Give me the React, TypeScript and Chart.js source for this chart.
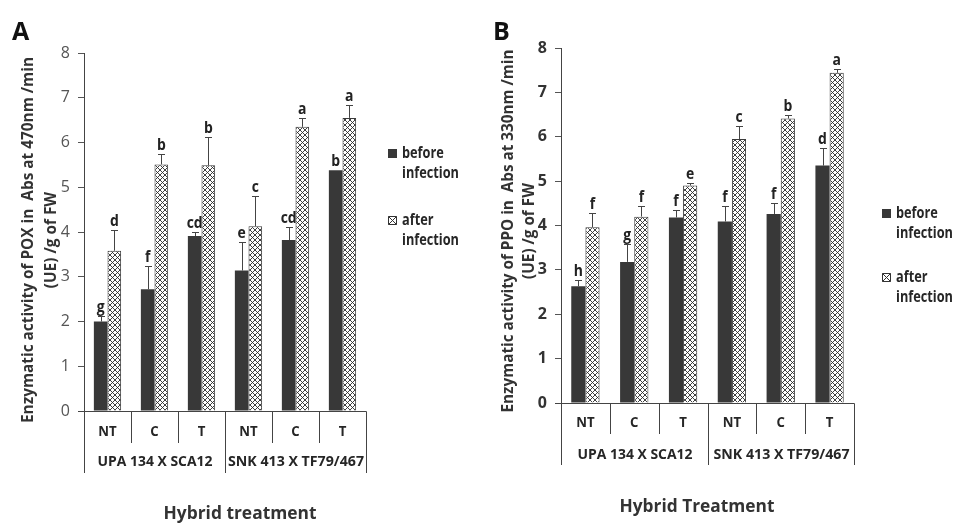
import React, { useEffect, useRef } from "react";
import { Chart, registerables } from "chart.js";

Chart.register(...registerables);

const categories = ["NT", "C", "T", "NT", "C", "T"];
const groups = ["UPA 134 X SCA12", "SNK 413 X TF79/467"];
const seriesNames = ["before infection", "after infection"];
const yTicks = [0, 1, 2, 3, 4, 5, 6, 7, 8];

const poxBefore = [2.0, 2.72, 3.91, 3.14, 3.82, 5.38];
const poxBeforeErr = [0.13, 0.52, 0.09, 0.64, 0.3, 0.0];
const poxAfter = [3.58, 5.51, 5.49, 4.13, 6.35, 6.55];
const poxAfterErr = [0.46, 0.23, 0.64, 0.67, 0.2, 0.29];
const poxBeforeLetters = ["g", "f", "cd", "e", "cd", "b"];
const poxAfterLetters = ["d", "b", "b", "c", "a", "a"];

const ppoBefore = [2.63, 3.18, 4.18, 4.09, 4.26, 5.35];
const ppoBeforeErr = [0.15, 0.4, 0.16, 0.36, 0.25, 0.39];
const ppoAfter = [3.96, 4.2, 4.9, 5.95, 6.41, 7.44];
const ppoAfterErr = [0.33, 0.25, 0.05, 0.29, 0.08, 0.09];
const ppoBeforeLetters = ["h", "g", "f", "f", "f", "d"];
const ppoAfterLetters = ["f", "f", "e", "c", "b", "a"];

const FONT = "'Open Sans', Lato, sans-serif";
const DARK = "#383838";

function makeHatch(): CanvasPattern | string {
  const s = 5;
  const c = document.createElement("canvas");
  c.width = s;
  c.height = s;
  const g = c.getContext("2d");
  if (!g) return "#fff";
  g.fillStyle = "#fff";
  g.fillRect(0, 0, s, s);
  g.strokeStyle = "#2a2a2a";
  g.lineWidth = 0.9;
  g.beginPath();
  g.moveTo(0, 0);
  g.lineTo(s, s);
  g.moveTo(s, 0);
  g.lineTo(0, s);
  g.stroke();
  const p = g.createPattern(c, "repeat");
  return p || "#fff";
}

// draw text at a given font size, squeezed horizontally to a target width (Calibri-like proportions)
function squeezeScale(ctx: CanvasRenderingContext2D, ref: string, size: number, target: number) {
  ctx.font = `bold ${size}px ${FONT}`;
  const w = ctx.measureText(ref).width;
  return Math.min(1, target / w);
}

function drawSqueezed(
  ctx: CanvasRenderingContext2D,
  text: string,
  x: number,
  y: number,
  size: number,
  sx: number,
  rotate = false
) {
  ctx.save();
  ctx.font = `bold ${size}px ${FONT}`;
  ctx.translate(x, y);
  if (rotate) ctx.rotate(-Math.PI / 2);
  ctx.scale(sx, 1);
  ctx.fillText(text, 0, 0);
  ctx.restore();
}

type Panel = {
  letter: string;
  before: number[];
  beforeErr: number[];
  after: number[];
  afterErr: number[];
  beforeLetters: string[];
  afterLetters: string[];
  yTitle: string[];
  yTitleW: number;
  xTitle: string;
  xTitleW: number;
  area: { left: number; right: number; top: number; bottom: number };
  width: number;
  tickBold: boolean;
  tickColor: string;
  catLabelY: number;
  groupLabelY: number;
  groupW: [number, number];
  innerDivBottom: number;
  outerDivBottom: number;
  xTitleX: number;
  xTitleY: number;
  yTitleX: [number, number];
  yTitleY: number;
  legendX: number;
  legendY: [number, number];
  letterX: number;
};

const panelA: Panel = {
  letter: "A",
  before: poxBefore,
  beforeErr: poxBeforeErr,
  after: poxAfter,
  afterErr: poxAfterErr,
  beforeLetters: poxBeforeLetters,
  afterLetters: poxAfterLetters,
  yTitle: ["Enzymatic activity of POX in  Abs at 470nm /min", "(UE) /g of FW"],
  yTitleW: 366,
  xTitle: "Hybrid treatment",
  xTitleW: 153,
  area: { left: 84, right: 366, top: 53, bottom: 411 },
  width: 480,
  tickBold: false,
  tickColor: "#555",
  catLabelY: 432,
  groupLabelY: 462,
  groupW: [115, 136],
  innerDivBottom: 443,
  outerDivBottom: 473,
  xTitleX: 240,
  xTitleY: 514,
  yTitleX: [28, 51],
  yTitleY: 240,
  legendX: 388,
  legendY: [153, 220],
  letterX: 12,
};

const panelB: Panel = {
  letter: "B",
  before: ppoBefore,
  beforeErr: ppoBeforeErr,
  after: ppoAfter,
  afterErr: ppoAfterErr,
  beforeLetters: ppoBeforeLetters,
  afterLetters: ppoAfterLetters,
  yTitle: ["Enzymatic activity of PPO in  Abs at 330nm /min", "(UE) /g of FW"],
  yTitleW: 363,
  xTitle: "Hybrid Treatment",
  xTitleW: 155,
  area: { left: 81, right: 374, top: 48, bottom: 403 },
  width: 479,
  tickBold: true,
  tickColor: "#333",
  catLabelY: 423,
  groupLabelY: 455,
  groupW: [115, 136],
  innerDivBottom: 434,
  outerDivBottom: 465,
  xTitleX: 217,
  xTitleY: 507,
  yTitleX: [28, 49],
  yTitleY: 231,
  legendX: 402,
  legendY: [213, 277],
  letterX: 13,
};

function PanelChart({ panel, left }: { panel: Panel; left: number }) {
  const ref = useRef<HTMLCanvasElement | null>(null);
  useEffect(() => {
    const canvas = ref.current;
    if (!canvas) return;
    const hatch = makeHatch();
    const p = panel;
    const overlay = {
      id: "overlay" + p.letter,
      afterDraw(chart: any) {
        const ctx = chart.ctx as CanvasRenderingContext2D;
        const ys = chart.scales.y;
        const xs = chart.scales.x;
        const ca = chart.chartArea;
        ctx.save();
        // error bars and letters
        const sets = [
          { err: p.beforeErr, vals: p.before, letters: p.beforeLetters },
          { err: p.afterErr, vals: p.after, letters: p.afterLetters },
        ];
        sets.forEach((s, di) => {
          const meta = chart.getDatasetMeta(di);
          meta.data.forEach((el: any, i: number) => {
            const x = el.x;
            const yv = ys.getPixelForValue(s.vals[i]);
            const yt = ys.getPixelForValue(s.vals[i] + s.err[i]);
            ctx.strokeStyle = "#444";
            ctx.lineWidth = 1;
            if (s.err[i] > 0) {
              ctx.beginPath();
              ctx.moveTo(Math.round(x) + 0.5, yv);
              ctx.lineTo(Math.round(x) + 0.5, Math.round(yt) + 0.5);
              ctx.moveTo(Math.round(x) - 3, Math.round(yt) + 0.5);
              ctx.lineTo(Math.round(x) + 4, Math.round(yt) + 0.5);
              ctx.stroke();
            }
            ctx.fillStyle = "#222";
            ctx.textAlign = "center";
            ctx.textBaseline = "alphabetic";
            drawSqueezed(ctx, s.letters[i], x, yt - 4, 15.5, 0.9);
          });
        });
        // category axis
        const y0 = Math.round(ys.getPixelForValue(0)) + 0.5;
        const n = categories.length;
        const bounds: number[] = [];
        for (let k = 0; k <= n; k++) {
          let bx;
          if (k === 0) bx = ca.left;
          else if (k === n) bx = ca.right;
          else bx = (xs.getPixelForValue(k - 1) + xs.getPixelForValue(k)) / 2;
          bounds.push(Math.round(bx) + 0.5);
        }
        ctx.strokeStyle = "#444";
        ctx.lineWidth = 1;
        ctx.beginPath();
        ctx.moveTo(ca.left - 6, y0);
        ctx.lineTo(bounds[n], y0);
        bounds.forEach((bx, k) => {
          const outer = k === 0 || k === n || k === n / 2;
          ctx.moveTo(bx, y0);
          ctx.lineTo(bx, outer ? p.outerDivBottom : p.innerDivBottom);
        });
        ctx.stroke();
        ctx.fillStyle = "#262626";
        ctx.textAlign = "center";
        ctx.textBaseline = "middle";
        categories.forEach((c, i) => {
          drawSqueezed(ctx, c, xs.getPixelForValue(i), p.catLabelY, 15, 0.88);
        });
        groups.forEach((g, gi) => {
          const gx = (bounds[gi * 3] + bounds[gi * 3 + 3]) / 2;
          const sc = squeezeScale(ctx, g, 15, p.groupW[gi]);
          drawSqueezed(ctx, g, gx, p.groupLabelY, 15, sc);
        });
        // x title
        ctx.fillStyle = "#333";
        const xsc = squeezeScale(ctx, p.xTitle, 18.5, p.xTitleW);
        drawSqueezed(ctx, p.xTitle, p.xTitleX, p.xTitleY, 18.5, xsc);
        // y title
        const ysc = squeezeScale(ctx, p.yTitle[0], 16.5, p.yTitleW);
        p.yTitle.forEach((t, li) => {
          drawSqueezed(ctx, t, p.yTitleX[li], p.yTitleY, 16.5, ysc, true);
        });
        // panel letter
        ctx.fillStyle = "#111";
        ctx.textAlign = "left";
        ctx.textBaseline = "alphabetic";
        drawSqueezed(ctx, p.letter, p.letterX, 40, 25, 1);
        // legend
        ctx.textBaseline = "middle";
        const words = seriesNames.map((s) => s.split(" "));
        const lsc = squeezeScale(ctx, "infection", 16, 57);
        p.legendY.forEach((ly, i) => {
          const sx = p.legendX;
          if (i === 0) {
            ctx.fillStyle = DARK;
            ctx.fillRect(sx, ly - 4, 9, 9);
          } else {
            ctx.fillStyle = "#fff";
            ctx.fillRect(sx, ly - 4, 9, 9);
            ctx.strokeStyle = "#333";
            ctx.beginPath();
            ctx.rect(sx + 0.5, ly - 3.5, 8, 8);
            ctx.moveTo(sx + 0.5, ly - 3.5);
            ctx.lineTo(sx + 8.5, ly + 4.5);
            ctx.moveTo(sx + 8.5, ly - 3.5);
            ctx.lineTo(sx + 0.5, ly + 4.5);
            ctx.stroke();
          }
          ctx.fillStyle = "#262626";
          drawSqueezed(ctx, words[i][0], sx + 14, ly, 16, lsc);
          drawSqueezed(ctx, words[i][1], sx + 14, ly + 20, 16, lsc);
        });
        ctx.restore();
      },
    };
    const chart = new Chart(canvas, {
      type: "bar",
      data: {
        labels: categories,
        datasets: [
          {
            label: seriesNames[0],
            data: p.before,
            backgroundColor: DARK,
            borderWidth: 0,
            categoryPercentage: 0.58,
            barPercentage: 1,
          },
          {
            label: seriesNames[1],
            data: p.after,
            backgroundColor: hatch as any,
            borderColor: "#3a3a3a",
            borderWidth: 1,
            categoryPercentage: 0.58,
            barPercentage: 1,
          },
        ],
      },
      options: {
        animation: false,
        responsive: false,
        devicePixelRatio: 1,
        layout: {
          padding: {
            left: 0,
            top: p.area.top,
            right: p.width - p.area.right,
            bottom: 523 - p.area.bottom,
          },
        },
        plugins: {
          legend: { display: false },
          tooltip: { enabled: false },
        },
        scales: {
          x: { display: false },
          y: {
            min: 0,
            max: 8,
            afterFit: (s: any) => {
              s.width = p.area.left;
            },
            afterBuildTicks: (s: any) => {
              s.ticks = yTicks.map((v) => ({ value: v }));
            },
            grid: {
              drawOnChartArea: false,
              drawTicks: true,
              tickLength: 6,
              color: "#555",
            },
            border: { display: true, color: "#444", width: 1 },
            ticks: {
              padding: 8,
              color: p.tickColor,
              font: { family: FONT, size: 16, weight: p.tickBold ? "bold" : "normal" },
            },
          },
        },
      },
      plugins: [overlay],
    } as any);
    return () => chart.destroy();
  }, [panel]);
  return (
    <canvas
      ref={ref}
      width={panel.width}
      height={523}
      style={{ position: "absolute", left, top: 0, width: panel.width, height: 523 }}
    />
  );
}

export default function App() {
  return (
    <div style={{ position: "absolute", left: 0, top: 0, width: 959, height: 523, background: "#fff" }}>
      <PanelChart panel={panelA} left={0} />
      <PanelChart panel={panelB} left={480} />
    </div>
  );
}
